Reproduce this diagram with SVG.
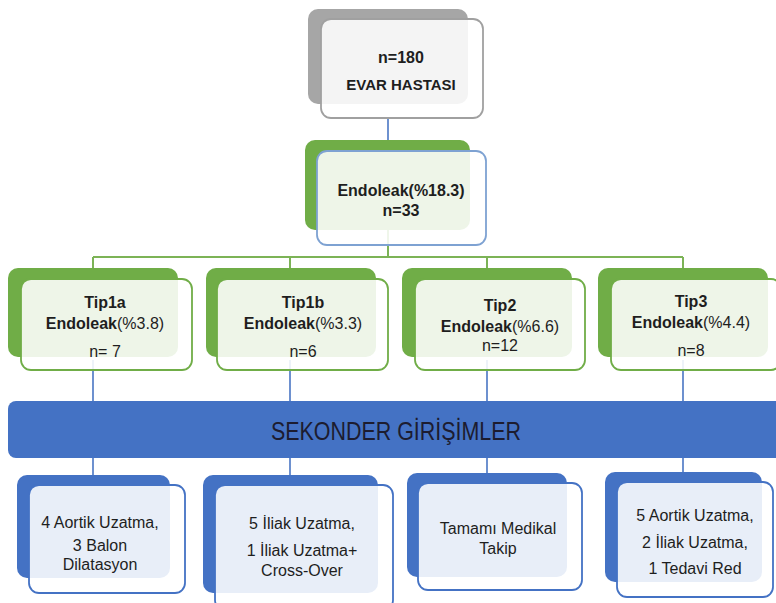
<svg xmlns="http://www.w3.org/2000/svg" width="776" height="603" viewBox="0 0 776 603">
<style>
text{font-family:"Liberation Sans","Noto Sans",sans-serif;font-size:16px;fill:#1e1e1e;text-anchor:middle}
.b{font-weight:bold}
.front{fill:#fff;fill-opacity:0.88;stroke-width:1.8}
.gback{fill:#70ad47}
.bback{fill:#4472c4}
.gl{stroke:#7cb356;stroke-width:2;fill:none}
.bl{stroke:#4a76c4;stroke-width:1.6;fill:none}
</style>
<rect width="776" height="603" fill="#fff"/>
<g id="connectors">
<path class="bl" d="M388 118V147"/>
<path class="gl" d="M388 140V257M93 257H683M93 257V269M290 257V269M487 257V269M683 257V269"/>
<path class="bl" d="M93 360V401M290 360V401M487 360V401M683 360V401"/>
<path class="bl" d="M93 458V476M290 458V476M487 458V476M683 458V476"/>
</g>
<g id="n-evar">
<rect x="308" y="9" width="160" height="95" rx="10" fill="#a6a6a6"/>
<rect class="front" x="321" y="19" width="162" height="99" rx="10" stroke="#a0a0a0"/>
<text class="b" x="401" y="63">n=180</text>
<text class="b" x="401" y="90" style="font-size:15px">EVAR HASTASI</text>
</g>
<g id="n-endoleak">
<rect class="gback" x="305" y="140" width="165" height="90" rx="10"/>
<rect class="front" x="317" y="151" width="169" height="94" rx="10" stroke="#7ea2d2"/>
<text class="b" x="401" y="196">Endoleak(%18.3)</text>
<text class="b" x="401" y="216">n=33</text>
</g>
<g id="n-tip1a">
<rect class="gback" x="8" y="268" width="170" height="89" rx="10"/>
<rect class="front" x="21" y="279" width="171" height="91" rx="10" stroke="#70ad47"/>
<text class="b" x="105" y="308">Tip1a</text>
<text x="105" y="329"><tspan class="b">Endoleak</tspan>(%3.8)</text>
<text x="105" y="357">n= 7</text>
</g>
<g id="n-tip1b">
<rect class="gback" x="206" y="268" width="170" height="89" rx="10"/>
<rect class="front" x="217" y="279" width="171" height="91" rx="10" stroke="#70ad47"/>
<text class="b" x="303" y="308">Tip1b</text>
<text x="303" y="329"><tspan class="b">Endoleak</tspan>(%3.3)</text>
<text x="303" y="357">n=6</text>
</g>
<g id="n-tip2">
<rect class="gback" x="402" y="268" width="170" height="89" rx="10"/>
<rect class="front" x="415" y="279" width="170" height="91" rx="10" stroke="#70ad47"/>
<text class="b" x="500" y="311">Tip2</text>
<text x="500" y="332"><tspan class="b">Endoleak</tspan>(%6.6)</text>
<text x="500" y="351">n=12</text>
</g>
<g id="n-tip3">
<rect class="gback" x="598" y="268" width="170" height="89" rx="10"/>
<rect class="front" x="611" y="279" width="170" height="91" rx="10" stroke="#70ad47"/>
<text class="b" x="691" y="307">Tip3</text>
<text x="691" y="328"><tspan class="b">Endoleak</tspan>(%4.4)</text>
<text x="691" y="356">n=8</text>
</g>
<g id="n-sekonder">
<rect x="8" y="401" width="776" height="57" rx="8" fill="#4472c4"/>
<text x="396" y="440" textLength="250" lengthAdjust="spacingAndGlyphs" style="font-size:25px;fill:#1c1c30">SEKONDER GİRİŞİMLER</text>
</g>
<g id="n-s1">
<rect class="bback" x="17" y="475" width="153" height="103" rx="10"/>
<rect class="front" x="29" y="485" width="156" height="108" rx="10" stroke="#4472c4"/>
<text x="100" y="528">4 Aortik Uzatma,</text>
<text x="100" y="551">3 Balon</text>
<text x="100" y="570">Dilatasyon</text>
</g>
<g id="n-s2">
<rect class="bback" x="203" y="475" width="175" height="118" rx="10"/>
<rect class="front" x="215" y="485" width="178" height="125" rx="10" stroke="#4472c4"/>
<text x="302" y="529">5 İliak Uzatma,</text>
<text x="302" y="556">1 İliak Uzatma+</text>
<text x="302" y="576">Cross-Over</text>
</g>
<g id="n-s3">
<rect class="bback" x="407" y="473" width="160" height="104" rx="10"/>
<rect class="front" x="418" y="483" width="164" height="107" rx="10" stroke="#4472c4"/>
<text x="498" y="534">Tamamı Medikal</text>
<text x="498" y="554">Takip</text>
</g>
<g id="n-s4">
<rect class="bback" x="605" y="472" width="157" height="110" rx="10"/>
<rect class="front" x="617" y="482" width="156" height="115" rx="10" stroke="#4472c4"/>
<text x="695" y="521">5 Aortik Uzatma,</text>
<text x="695" y="548">2 İliak Uzatma,</text>
<text x="695" y="574">1 Tedavi Red</text>
</g>
</svg>
